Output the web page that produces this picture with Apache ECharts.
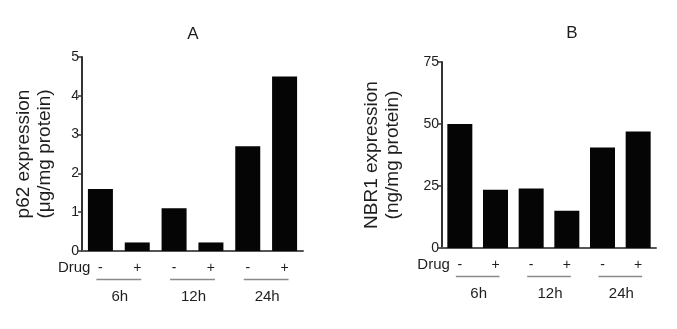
<!DOCTYPE html>
<html><head><meta charset="utf-8">
<script src="https://cdn.jsdelivr.net/npm/echarts@6/dist/echarts.min.js"></script>
<style>html,body{margin:0;padding:0;background:#fff}#c{width:677px;height:329px}</style>
</head><body><div id="c"></div>
<script>
const drugCats = ['-', '+', '-', '+', '-', '+'];
const timeGroups = ['6h', '12h', '24h'];
const p62Values = [1.6, 0.22, 1.1, 0.22, 2.7, 4.5];
const nbr1Values = [50, 23.5, 24, 15, 40.5, 47];
const p62Ticks = { min: 0, max: 5, interval: 1 };
const nbr1Ticks = { min: 0, max: 75, interval: 25 };

const FONT = '"Liberation Sans", Arial, sans-serif';
const TXT = '#1e1e1e';

function groupSeries(idx) {
  return {
    type: 'custom', xAxisIndex: idx, yAxisIndex: idx, silent: true, clip: false,
    data: timeGroups.map((g, i) => [i * 2, 0, i]),
    renderItem: function (params, api) {
      const gi = api.value(2);
      const p1 = api.coord([gi * 2, 0]);
      const p2 = api.coord([gi * 2 + 1, 0]);
      const y = p1[1];
      const children = [
        { type: 'line', shape: { x1: p1[0] - 4, y1: y + 28.5, x2: p2[0] + 4, y2: y + 28.5 },
          style: { stroke: '#8a8a8a', lineWidth: 1.3 } },
        { type: 'text', x: (p1[0] + p2[0]) / 2 + 1, y: y + 46,
          style: { text: timeGroups[gi], fill: TXT, font: '15px ' + FONT, align: 'center', verticalAlign: 'middle' } }
      ];
      if (gi === 0) {
        const left = api.coord([0, 0]);
        children.push({ type: 'text', x: left[0] - 10, y: y + 17,
          style: { text: 'Drug', fill: TXT, font: '15px ' + FONT, align: 'right', verticalAlign: 'middle' } });
      }
      return { type: 'group', children: children };
    }
  };
}

function yAxis(idx, ticks, name, gap) {
  return {
    gridIndex: idx, type: 'value', min: ticks.min, max: ticks.max, interval: ticks.interval,
    name: name, nameLocation: 'middle', nameGap: gap,
    nameTextStyle: { fontSize: 19, lineHeight: 21, color: TXT, fontFamily: FONT },
    axisLine: { show: true, lineStyle: { color: '#333', width: 2 } },
    axisTick: { show: true, length: 4, lineStyle: { color: '#333', width: 1.5 } },
    axisLabel: { fontSize: 14, color: TXT, fontFamily: FONT, margin: 3 },
    splitLine: { show: false }
  };
}
function xAxis(idx) {
  return {
    gridIndex: idx, type: 'category', data: drugCats,
    axisLine: { show: true, lineStyle: { color: '#555', width: 2 } },
    axisTick: { show: false },
    axisLabel: { fontSize: 14, color: TXT, fontFamily: FONT, margin: 10, interval: 0 }
  };
}

const chart = echarts.init(document.getElementById('c'), null, { renderer: 'canvas' });
chart.setOption({
  animation: false,
  backgroundColor: '#fff',
  title: [
    { text: 'A', left: 188, top: 21, textAlign: 'center', textStyle: { fontSize: 17, fontWeight: 'normal', color: TXT, fontFamily: FONT } },
    { text: 'B', left: 567, top: 20, textAlign: 'center', textStyle: { fontSize: 17, fontWeight: 'normal', color: TXT, fontFamily: FONT } }
  ],
  grid: [
    { left: 82, top: 57, width: 221, height: 194 },
    { left: 442, top: 62, width: 214, height: 186 }
  ],
  xAxis: [xAxis(0), xAxis(1)],
  yAxis: [
    yAxis(0, p62Ticks, 'p62 expression\n(μg/mg protein)', 27),
    yAxis(1, nbr1Ticks, 'NBR1 expression\n(ng/mg protein)', 39)
  ],
  series: [
    { type: 'bar', xAxisIndex: 0, yAxisIndex: 0, data: p62Values, barWidth: 25, itemStyle: { color: '#050505' } },
    { type: 'bar', xAxisIndex: 1, yAxisIndex: 1, data: nbr1Values, barWidth: 25, itemStyle: { color: '#050505' } },
    groupSeries(0),
    groupSeries(1)
  ]
});
</script>
</body></html>
